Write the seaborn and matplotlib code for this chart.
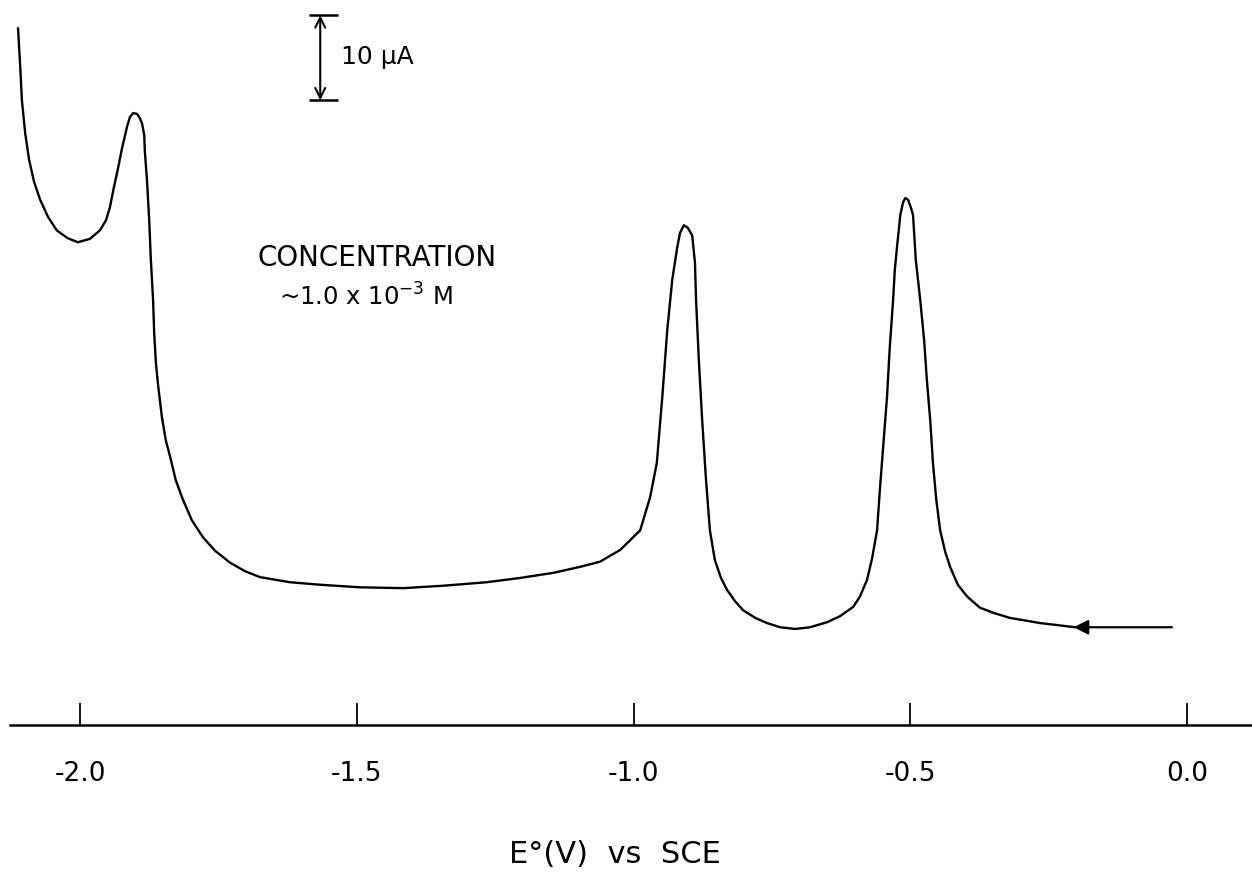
import numpy as np
import pandas as pd
import seaborn as sns
import matplotlib.pyplot as plt

# potential (V vs SCE) and current (uA)
potential = [-2.112, -2.108, -2.105, -2.099, -2.092, -2.083, -2.072, -2.058,
             -2.042, -2.023, -2.004, -1.982, -1.964, -1.953, -1.946, -1.939,
             -1.931, -1.924, -1.915, -1.910, -1.904, -1.897, -1.892, -1.888,
             -1.884, -1.883, -1.879, -1.875, -1.872, -1.868, -1.866, -1.863,
             -1.859, -1.852, -1.845, -1.837, -1.827, -1.814, -1.798, -1.778,
             -1.756, -1.729, -1.702, -1.675, -1.621, -1.566, -1.494, -1.416,
             -1.341, -1.265, -1.205, -1.145, -1.097, -1.061, -1.024, -0.988,
             -0.970, -0.958, -0.948, -0.939, -0.930, -0.921, -0.916, -0.909,
             -0.902, -0.894, -0.889, -0.887, -0.882, -0.876, -0.869, -0.862,
             -0.853, -0.842, -0.831, -0.817, -0.802, -0.780, -0.759, -0.735,
             -0.708, -0.681, -0.650, -0.627, -0.603, -0.591, -0.578, -0.569,
             -0.560, -0.555, -0.549, -0.542, -0.537, -0.531, -0.528, -0.524,
             -0.518, -0.513, -0.509, -0.504, -0.499, -0.495, -0.490, -0.482,
             -0.475, -0.470, -0.464, -0.459, -0.453, -0.446, -0.437, -0.428,
             -0.414, -0.397, -0.374, -0.350, -0.320, -0.266, -0.202]
current = [82.0, 77.4, 73.5, 69.6, 66.5, 63.9, 61.8, 59.8,
           58.2, 57.3, 56.8, 57.2, 58.2, 59.4, 60.9, 63.2,
           65.6, 67.9, 70.4, 71.5, 72.0, 71.9, 71.4, 70.8,
           69.4, 67.6, 64.1, 59.4, 54.7, 50.0, 46.1, 42.7,
           40.0, 36.2, 33.5, 31.5, 28.8, 26.5, 24.1, 22.1,
           20.5, 19.1, 18.1, 17.4, 16.8, 16.5, 16.2, 16.1,
           16.4, 16.8, 17.3, 17.9, 18.6, 19.2, 20.6, 22.9,
           26.8, 30.8, 38.6, 46.5, 52.4, 56.2, 57.9, 58.8,
           58.5, 57.6, 54.4, 50.0, 42.9, 35.9, 28.8, 22.9,
           19.4, 17.3, 15.9, 14.6, 13.5, 12.6, 12.0, 11.5,
           11.3, 11.5, 12.1, 12.8, 13.9, 15.1, 17.1, 19.6,
           22.9, 27.6, 32.7, 38.6, 44.5, 50.0, 53.5, 56.2,
           60.0, 61.5, 62.0, 61.8, 60.9, 60.0, 54.7, 50.0,
           45.3, 40.6, 35.9, 30.8, 26.5, 22.9, 20.4, 18.6,
           16.5, 15.1, 13.8, 13.2, 12.6, 12.0, 11.5]
scan_start = (-0.027, 11.5)   # where the scan begins (arrow tail)
tick_values = [-2.0, -1.5, -1.0, -0.5, 0.0]
tick_labels = ["-2.0", "-1.5", "-1.0", "-0.5", "0.0"]

df = pd.DataFrame({"E": potential, "I": current})

sns.set_style("white")
plt.rcParams["font.family"] = ["DejaVu Sans"]
plt.rcParams["text.color"] = "black"
plt.rcParams["axes.labelcolor"] = "black"
plt.rcParams["xtick.color"] = "black"

fig = plt.figure(figsize=(12.52, 8.81), dpi=100)
ax = fig.add_axes([10 / 1252, 156 / 881, 1242 / 1252, 725 / 881])

sns.lineplot(data=df, x="E", y="I", sort=False, estimator=None, color="black",
             linewidth=1.7, ax=ax)
ax.lines[0].set_solid_joinstyle("round")
ax.lines[0].set_solid_capstyle("round")

# scan direction arrow
ax.annotate("", xy=(potential[-1] - 0.003, current[-1]), xytext=scan_start,
            arrowprops=dict(arrowstyle="-|>", color="black", lw=1.6,
                            mutation_scale=22, shrinkA=0, shrinkB=0))

# 10 uA scale bar
ax.annotate("", xy=(-1.566, 73.5), xytext=(-1.566, 83.5),
            arrowprops=dict(arrowstyle="<->", color="black", lw=1.5,
                            mutation_scale=18, shrinkA=0, shrinkB=0))
ax.hlines([73.5, 83.5], -1.586, -1.534, color="black", lw=1.8)
ax.text(-1.529, 78.6, "10 \u03bcA", fontsize=18, va="center", ha="left")

ax.text(-1.679, 55.0, "CONCENTRATION", fontsize=20, va="center", ha="left")
ax.text(-1.640, 50.4, "~1.0 x 10$^{-3}$ M", fontsize=17.5, va="center", ha="left")

ax.set_xlim(-2.1265, 0.1174)
ax.set_ylim(0, 85.3)
ax.set_xticks(tick_values)
ax.set_xticklabels(tick_labels, fontsize=19)
ax.set_yticks([])
ax.set_ylabel("")
ax.set_xlabel("E\u00b0(V)  vs  SCE", fontsize=22)
ax.xaxis.label.set_va("center")
ax.xaxis.set_label_coords(0.487, -0.179)

for side in ["left", "right", "top"]:
    ax.spines[side].set_visible(False)
ax.spines["bottom"].set_linewidth(1.8)
ax.spines["bottom"].set_color("black")
ax.tick_params(axis="x", direction="in", length=16, width=1.3, pad=26,
               bottom=True, colors="black")

fig.savefig("out.png", dpi=100, facecolor="white")
